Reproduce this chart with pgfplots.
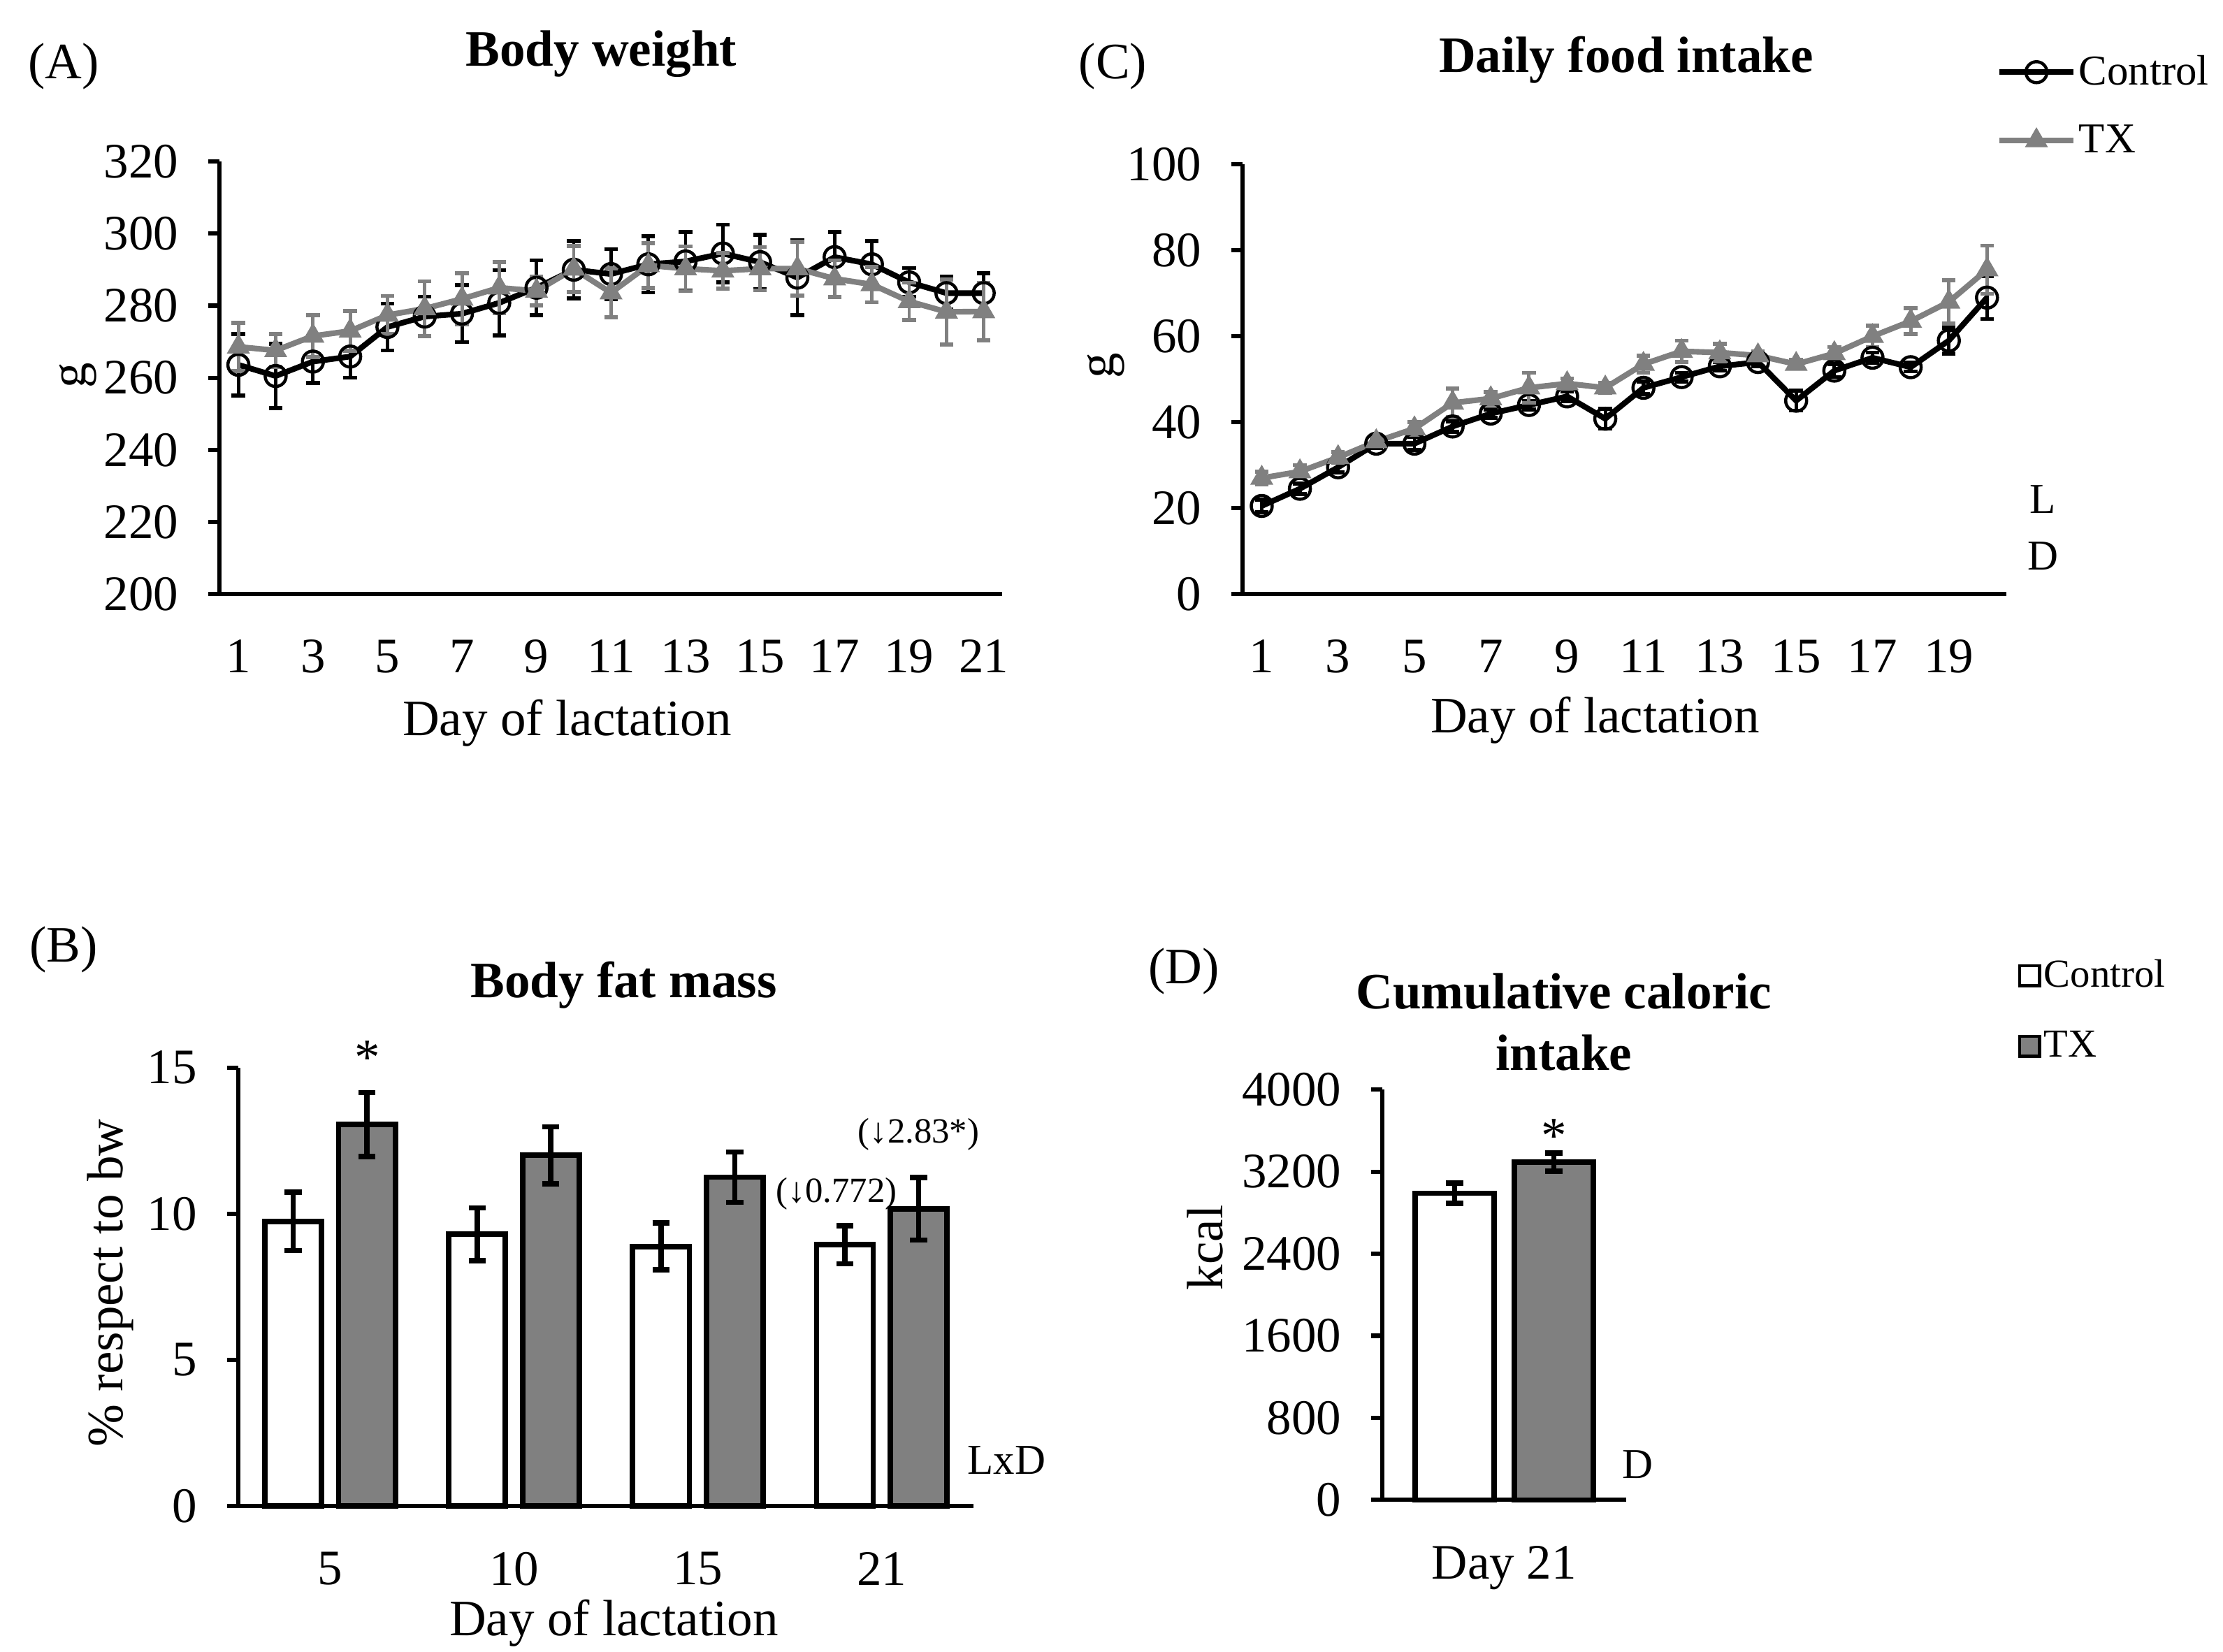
\documentclass[border=0pt]{standalone}
\usepackage{fontspec}
\setmainfont{Liberation Serif}
\usepackage{pgfplots}
\pgfplotsset{compat=1.18}

\definecolor{txgray}{RGB}{128,128,128}

\pgfplotsset{
  panel/.style={
    scale only axis,
    axis lines=left,
    axis line style={-, line width=1.5pt},
    tick align=outside,
    major tick length=4pt,
    xtick style={draw=none},
    ytick style={line width=1.5pt, black},
    tick label style={font=\fontsize{17.5}{20}\selectfont},
    yticklabel style={xshift=-7pt},
    xticklabel style={inner sep=0pt, yshift=-12pt},
    /pgf/number format/assume math mode=true,
    /pgf/number format/1000 sep={},
    clip=false,
  },
  ctrl line/.style={black, line width=2pt, mark=o, mark size=3.7pt,
    mark options={solid, line width=1.1pt}},
  tx line/.style={txgray, line width=2pt, mark=triangle*, mark size=4.2pt,
    mark options={solid, fill=txgray, draw=txgray, line width=0.5pt}},
  ebar/.style={/pgfplots/error bars/y dir=both, /pgfplots/error bars/y explicit,
    /pgfplots/error bars/error bar style={line width=1.2pt, #1},
    /pgfplots/error bars/error mark options={rotate=90, line width=1.4pt, mark size=2.4pt, #1}},
  bar ebar/.style={/pgfplots/error bars/y dir=both, /pgfplots/error bars/y explicit,
    /pgfplots/error bars/error bar style={line width=1.9pt, black},
    /pgfplots/error bars/error mark options={rotate=90, line width=1.9pt, mark size=3pt, black}},
}

\begin{document}
\begin{tikzpicture}[font=\fontsize{18}{21.6}\selectfont]
\path[use as bounding box] (0,0) rectangle (784pt,-582.5pt);

% (A) Body weight
\begin{axis}[panel, at={(77.5pt,-209.5pt)}, anchor=south west,
  width=276pt, height=152.5pt,
  xmin=0.5, xmax=21.5, ymin=200, ymax=320,
  xtick={1,3,...,21}, ytick={200,220,...,320}]
\addplot[ctrl line, ebar=black] coordinates {
 (1,263.6) +- (0,8.5) (2,260.5) +- (0,8.9) (3,264.5) +- (0,5.9) (4,265.9) +- (0,5.9)
 (5,274.1) +- (0,6.5) (6,277) +- (0,5.5) (7,277.8) +- (0,7.9) (8,280.8) +- (0,9.1)
 (9,285) +- (0,7.6) (10,290) +- (0,8) (11,288.8) +- (0,6.9) (12,291.5) +- (0,7.8)
 (13,292.3) +- (0,8.1) (14,294.5) +- (0,8) (15,292.1) +- (0,7.6) (16,287.8) +- (0,10.4)
 (17,293.5) +- (0,7) (18,291.5) +- (0,6.5) (19,286.5) +- (0,4) (20,283.5) +- (0,4.5)
 (21,283.5) +- (0,5.5)};
\addplot[tx line, ebar=txgray] coordinates {
 (1,268.6) +- (0,6.7) (2,267.6) +- (0,4.6) (3,271.6) +- (0,5.8) (4,273) +- (0,5.5)
 (5,277.4) +- (0,5.3) (6,279.2) +- (0,7.6) (7,281.9) +- (0,7.1) (8,285) +- (0,7.1)
 (9,284.1) +- (0,4) (10,290.2) +- (0,6.4) (11,283.6) +- (0,6.8) (12,291.2) +- (0,6.2)
 (13,290.3) +- (0,6.2) (14,289.7) +- (0,5) (15,290.3) +- (0,6) (16,290.3) +- (0,7.5)
 (17,287.5) +- (0,5.1) (18,285.9) +- (0,4.9) (19,281.2) +- (0,5.2) (20,278.3) +- (0,9)
 (21,278.4) +- (0,8)};
\end{axis}

% (C) Daily food intake
\begin{axis}[panel, at={(438.25pt,-209.5pt)}, anchor=south west,
  width=269.25pt, height=151.5pt,
  xmin=0.5, xmax=20.5, ymin=0, ymax=100,
  xtick={1,3,...,19}, ytick={0,20,...,100},
  legend style={at={(0.987,1.262)}, anchor=north west, draw=none, fill=none,
    font=\fontsize{15}{18}\selectfont, row sep=10.5pt, inner sep=0pt,
    nodes={inner sep=1pt}},
  legend cell align=left,
  legend image code/.code={\draw[mark repeat=2, mark phase=2, #1]
    plot coordinates {(0pt,0pt) (13pt,0pt) (26pt,0pt)};}]
\addplot[ctrl line, ebar=black] coordinates {
 (1,20.5) +- (0,1.5) (2,24.5) +- (0,1.2) (3,29.5) +- (0,1.2) (4,35) +- (0,1)
 (5,35) +- (0,1.5) (6,39) +- (0,1.2) (7,42) +- (0,1) (8,44) +- (0,1)
 (9,46) +- (0,1.2) (10,40.8) +- (0,2.3) (11,48) +- (0,1.5) (12,50.5) +- (0,1)
 (13,53) +- (0,1) (14,54) +- (0,1) (15,45) +- (0,2.3) (16,52) +- (0,1.5)
 (17,55) +- (0,1.2) (18,52.8) +- (0,1) (19,59) +- (0,3) (20,69) +- (0,5)};
\addlegendentry{Control}
\addplot[tx line, ebar=txgray] coordinates {
 (1,27) +- (0,1.5) (2,28.5) +- (0,1.5) (3,31.8) +- (0,1.2) (4,35.5) +- (0,1)
 (5,38.5) +- (0,1.5) (6,44.5) +- (0,3.3) (7,45.5) +- (0,1.5) (8,48) +- (0,3.5)
 (9,49) +- (0,1.2) (10,48) +- (0,1.2) (11,53.5) +- (0,2) (12,56.5) +- (0,2.5)
 (13,56.2) +- (0,2) (14,55.5) +- (0,1) (15,53.5) +- (0,1) (16,56) +- (0,1.5)
 (17,60) +- (0,2.5) (18,63.5) +- (0,3) (19,68) +- (0,5) (20,75.5) +- (0,5.6)};
\addlegendentry{TX}
\end{axis}

% (B) Body fat mass
\begin{axis}[panel, at={(84pt,-531.2pt)}, anchor=south west,
  width=259.4pt, height=154.7pt,
  ybar=6pt, bar width=20pt,
  xmin=0.5, xmax=4.5, ymin=0, ymax=15,
  xtick={1,2,3,4}, xticklabels={5,10,15,21}, ytick={0,5,10,15}]
\addplot[draw=black, fill=white, line width=1.9pt, bar ebar] coordinates {
 (1,9.74) +- (0,1.0) (2,9.3) +- (0,0.9) (3,8.88) +- (0,0.8) (4,8.94) +- (0,0.65)};
\addplot[draw=black, fill=txgray, line width=1.9pt, bar ebar] coordinates {
 (1,13.05) +- (0,1.09) (2,12.0) +- (0,0.97) (3,11.25) +- (0,0.86) (4,10.17) +- (0,1.07)};
\end{axis}

% (D) Cumulative caloric intake
\begin{axis}[panel, at={(487.5pt,-529pt)}, anchor=south west,
  width=86pt, height=144.7pt,
  ybar=7.3pt, bar width=27.7pt,
  xmin=0.5, xmax=1.5, ymin=0, ymax=4000,
  xtick={1}, xticklabels={Day 21}, ytick={0,800,...,4000},
  legend style={at={(2.605,1.325)}, anchor=north west, draw=none, fill=none,
    font=\fontsize{14}{17}\selectfont, row sep=12pt, inner sep=0pt,
    nodes={inner sep=1pt}},
  legend cell align=left,
  legend image code/.code={\draw[#1, line width=1.1pt] (0pt,-3.5pt) rectangle (7pt,3.5pt);}]
\addplot[draw=black, fill=white, line width=1.9pt, bar ebar] coordinates {
 (1,2990) +- (0,97)};
\addlegendentry{Control}
\addplot[draw=black, fill=txgray, line width=1.9pt, bar ebar] coordinates {
 (1,3293) +- (0,89)};
\addlegendentry{TX}
\end{axis}

% panel letters and titles
\node at (22.5pt,-23.5pt) {(A)};
\node at (392.5pt,-23.5pt) {(C)};
\node at (22.5pt,-335pt) {(B)};
\node at (417.5pt,-342.5pt) {(D)};
\node[font=\fontsize{18}{21.6}\selectfont\bfseries] at (212pt,-19pt) {Body weight};
\node[font=\fontsize{18}{21.6}\selectfont\bfseries] at (573.5pt,-21pt) {Daily food intake};
\node[font=\fontsize{18}{21.6}\selectfont\bfseries] at (220pt,-347.5pt) {Body fat mass};
\node[font=\fontsize{18}{21.6}\selectfont\bfseries, align=center] at (551.5pt,-360.5pt)
  {Cumulative caloric\\intake};

% axis labels
\node[rotate=90] at (27.5pt,-132.5pt) {g};
\node[rotate=90] at (390pt,-129pt) {g};
\node[rotate=90] at (39pt,-452.5pt) {\% respect to bw};
\node[rotate=90] at (425pt,-440pt) {kcal};
\node[inner sep=0pt] at (200pt,-255pt) {Day of lactation};
\node[inner sep=0pt] at (562.5pt,-254pt) {Day of lactation};
\node[inner sep=0pt] at (216.5pt,-572.5pt) {Day of lactation};

% annotations
\node[font=\fontsize{15}{18}\selectfont] at (720.5pt,-176pt) {L};
\node[font=\fontsize{15}{18}\selectfont] at (720.5pt,-196pt) {D};
\node[font=\fontsize{15}{18}\selectfont] at (355pt,-515pt) {LxD};
\node[font=\fontsize{15}{18}\selectfont] at (577.5pt,-516.5pt) {D};
\node[anchor=base] at (129.5pt,-379pt) {*};
\node[anchor=base] at (548pt,-406.5pt) {*};
\node[font=\fontsize{12.5}{15}\selectfont] at (295pt,-421pt) {(↓0.772)};
\node[font=\fontsize{12.5}{15}\selectfont] at (324pt,-400pt) {(↓2.83*)};
\end{tikzpicture}
\end{document}
